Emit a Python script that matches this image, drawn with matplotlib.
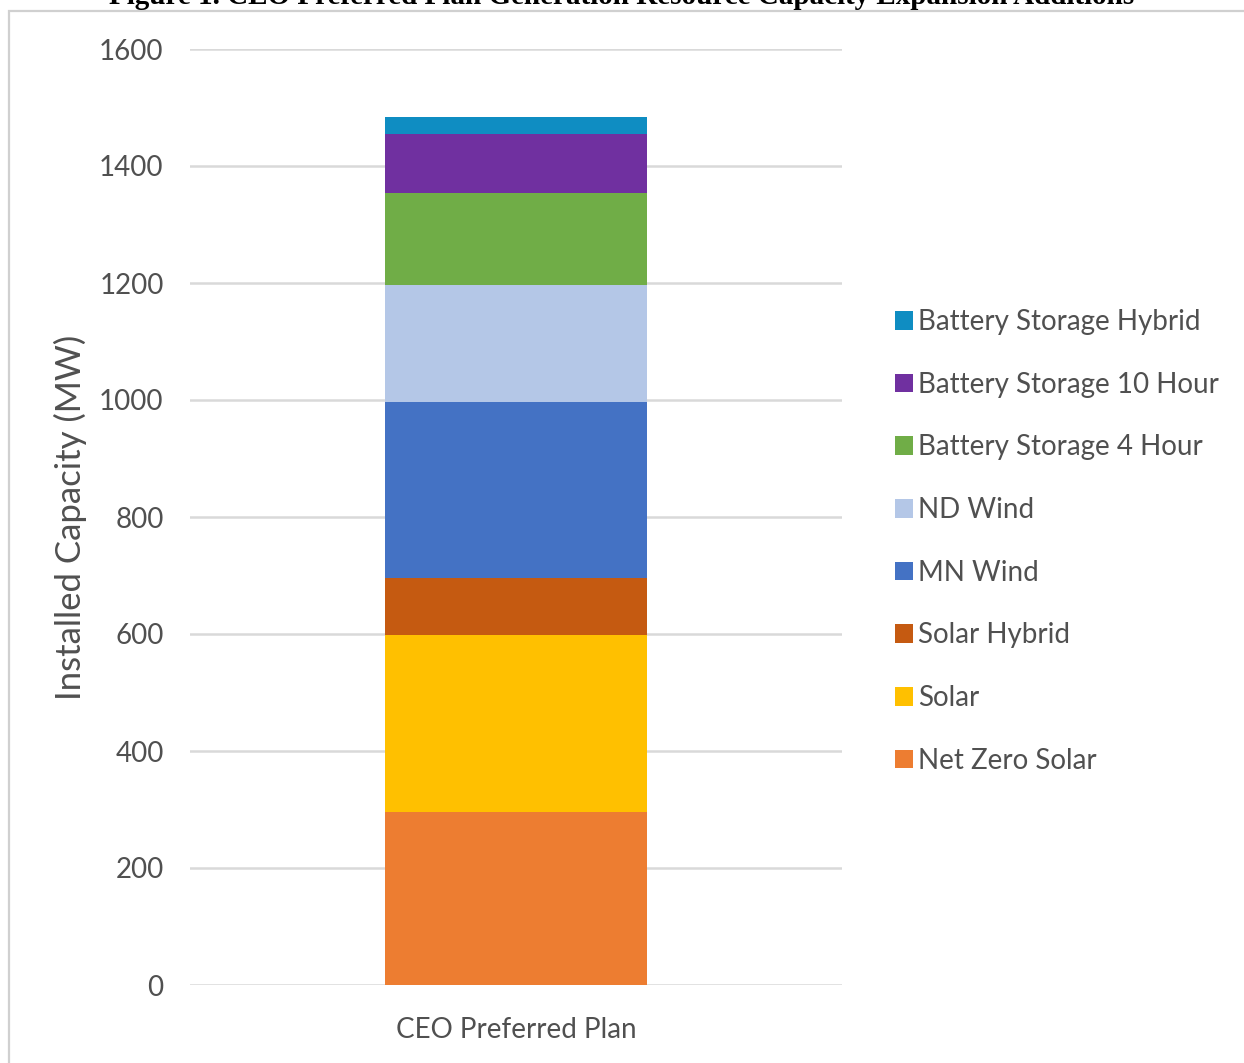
"""Stacked capacity additions for the CEO preferred plan."""

import matplotlib.pyplot as plt
from matplotlib.patches import Patch, Rectangle

# Resource additions, bottom of the stack first (MW)
resources = [
    "Net Zero Solar",
    "Solar",
    "Solar Hybrid",
    "MN Wind",
    "ND Wind",
    "Battery Storage 4 Hour",
    "Battery Storage 10 Hour",
    "Battery Storage Hybrid",
]
capacity_mw = [296, 302, 98, 301, 200, 156, 101, 29]
colors = [
    "#ED7D31",
    "#FFC000",
    "#C55A11",
    "#4472C4",
    "#B4C7E7",
    "#70AD47",
    "#7030A0",
    "#0F8DC2",
]
plan_label = "CEO Preferred Plan"
y_ticks = [0, 200, 400, 600, 800, 1000, 1200, 1400, 1600]

TEXT_GRAY = "#505050"
W, H = 1244, 1063

plt.rcParams["font.family"] = ["Lato", "DejaVu Sans"]

fig = plt.figure(figsize=(W / 100, H / 100), dpi=100)

# outer chart border, running off the right and bottom edges
fig.patches.append(
    Rectangle((9 / W, -0.1), 1.2, 1 - 11 / H + 0.1, transform=fig.transFigure,
              facecolor="none", edgecolor="#d0d0d0", linewidth=1.6, zorder=0)
)

fig.text(0.5, 1 - 4 / H,
         "Figure 1. CEO Preferred Plan Generation Resource Capacity Expansion Additions",
         ha="center", va="baseline", fontsize=21, fontweight="bold",
         family="Liberation Serif", color="black")

ax = fig.add_axes([190 / W, 78 / H, 652 / W, 936 / H])

bottom = 0
for name, value, color in zip(resources, capacity_mw, colors):
    ax.bar(0, value, width=0.402, bottom=bottom, color=color, label=name, zorder=2)
    bottom += value

ax.set_xlim(-0.5, 0.5)
ax.set_ylim(0, 1600)
ax.set_yticks(y_ticks)
ax.set_xticks([0])
ax.set_xticklabels([plan_label])
ax.yaxis.grid(True, color="#d9d9d9", linewidth=1.8, zorder=0)
ax.set_axisbelow(True)
for spine in ax.spines.values():
    spine.set_visible(False)
ax.tick_params(axis="both", length=0, labelsize=20, labelcolor=TEXT_GRAY)
ax.tick_params(axis="y", pad=19)
ax.tick_params(axis="x", pad=23)
ax.set_ylabel("Installed Capacity (MW)", fontsize=25, color=TEXT_GRAY, labelpad=9)

handles = [Patch(facecolor=c, edgecolor="none") for c in colors][::-1]
fig.legend(handles, resources[::-1], loc="upper left",
           bbox_to_anchor=(884 / W, 1 - 298 / H), frameon=False,
           fontsize=20, labelcolor=TEXT_GRAY, handlelength=0.65, handleheight=0.65,
           handletextpad=0.18, labelspacing=1.32, borderaxespad=0)

fig.savefig("out.png", dpi=100)
